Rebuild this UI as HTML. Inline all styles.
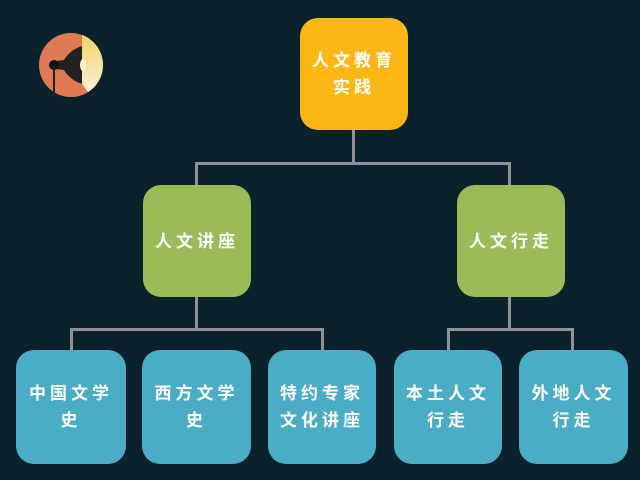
<!DOCTYPE html>
<html><head><meta charset="utf-8"><style>
html,body{margin:0;padding:0;}
body{width:640px;height:480px;background:#0b212c;position:relative;overflow:hidden;font-family:"Liberation Sans","Noto Sans CJK SC",sans-serif;}
.b{position:absolute;border-radius:18px;color:#fff;display:flex;align-items:center;justify-content:center;text-align:center;font-size:17px;letter-spacing:4px;line-height:27px;font-weight:600;}
.y{background:#fbb714;}
.g{background:#9bbb59;}
.c{background:#4bacc6;}
.l{position:absolute;background:#8f9396;}
</style></head><body>
<svg style="position:absolute;left:0;top:0" width="140" height="120">
<defs><linearGradient id="lg" x1="0" y1="0" x2="0" y2="1"><stop offset="0" stop-color="#f2d061"/><stop offset="1" stop-color="#fbf6e6"/></linearGradient>
<clipPath id="cp"><circle cx="71" cy="65" r="32"/></clipPath></defs>
<circle cx="71" cy="65" r="32" fill="#e07a55"/>
<g clip-path="url(#cp)"><polygon points="82,30 110,30 110,100 94,100 82,84" fill="url(#lg)"/></g>
<path d="M82,46 L82,84 Q70,80 64,70 L56,69 L56,61 L64,60 Q70,50 82,46 Z" fill="#222"/>
<circle cx="54" cy="65" r="5" fill="#111"/>
<rect x="53" y="66" width="2" height="30" fill="#222"/>
<ellipse cx="83" cy="65" rx="3" ry="6" fill="#fff6d0"/>
</svg>
<div class="l" style="left:352px;top:130px;width:3px;height:34px"></div>
<div class="l" style="left:195px;top:162px;width:316px;height:3px"></div>
<div class="l" style="left:195px;top:162px;width:3px;height:24px"></div>
<div class="l" style="left:508px;top:162px;width:3px;height:24px"></div>
<div class="l" style="left:195px;top:297px;width:3px;height:33px"></div>
<div class="l" style="left:70px;top:328px;width:254px;height:3px"></div>
<div class="l" style="left:70px;top:328px;width:3px;height:23px"></div>
<div class="l" style="left:321px;top:328px;width:3px;height:23px"></div>
<div class="l" style="left:508px;top:297px;width:3px;height:33px"></div>
<div class="l" style="left:447px;top:328px;width:127px;height:3px"></div>
<div class="l" style="left:447px;top:328px;width:3px;height:23px"></div>
<div class="l" style="left:571px;top:328px;width:3px;height:23px"></div>
<div class="b y" style="left:300px;top:18px;width:108px;height:112px">人文教育<br>实践</div>
<div class="b g" style="left:143px;top:185px;width:108px;height:112px">人文讲座</div>
<div class="b g" style="left:457px;top:185px;width:108px;height:112px">人文行走</div>
<div class="b c" style="left:16px;top:350px;width:110px;height:114px">中国文学<br>史</div>
<div class="b c" style="left:142px;top:350px;width:109px;height:114px">西方文学<br>史</div>
<div class="b c" style="left:268px;top:350px;width:108px;height:114px">特约专家<br>文化讲座</div>
<div class="b c" style="left:394px;top:350px;width:108px;height:114px">本土人文<br>行走</div>
<div class="b c" style="left:519px;top:350px;width:109px;height:114px">外地人文<br>行走</div>
</body></html>
